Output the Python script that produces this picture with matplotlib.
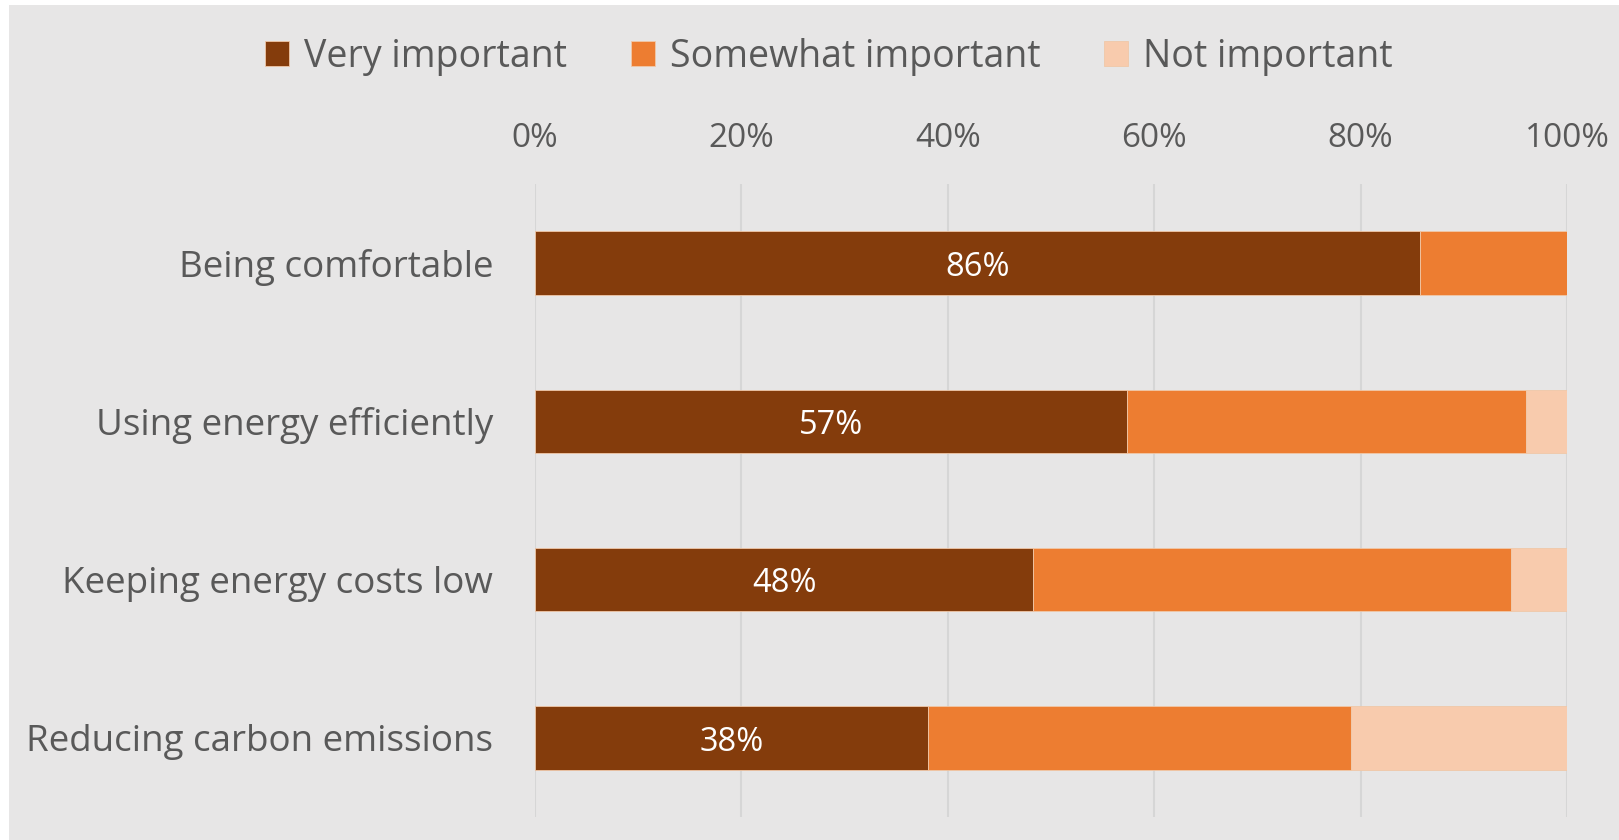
import matplotlib
matplotlib.use("Agg")
import matplotlib.pyplot as plt
from matplotlib.patches import Rectangle

plt.rcParams['font.family'] = ['Open Sans', 'DejaVu Sans']

categories = ["Being comfortable", "Using energy efficiently",
              "Keeping energy costs low", "Reducing carbon emissions"]
very_important = [85.8, 57.4, 48.3, 38.1]
somewhat_important = [14.2, 38.6, 46.3, 41.0]
not_important = [0.0, 4.0, 5.4, 20.9]
series_names = ["Very important", "Somewhat important", "Not important"]
colors = ["#843c0c", "#ed7d31", "#f8cbad"]
xticks = [0, 20, 40, 60, 80, 100]

text_color = "#595959"
bg = "#e7e6e6"

W, H = 1619, 840
fig = plt.figure(figsize=(W / 100, H / 100), dpi=100)
fig.patch.set_facecolor("white")
fig.patches.append(Rectangle((9 / W, 0), 1 - 9 / W, 1 - 5 / H,
                             transform=fig.transFigure, facecolor=bg,
                             edgecolor="none", zorder=-5))

ax = fig.add_axes([535 / W, 1 - 817 / H, (1567 - 535) / W, (817 - 184) / H])
ax.set_facecolor("none")

y = list(range(len(categories)))
left = [0] * len(categories)
bars = []
for vals, name, c in zip([very_important, somewhat_important, not_important], series_names, colors):
    b = ax.barh(y, vals, left=left, height=0.4, color=c, label=name,
                edgecolor="#f0c8a8", linewidth=0.6, zorder=3)
    bars.append(b)
    left = [l + v for l, v in zip(left, vals)]

for rect, v in zip(bars[0], very_important):
    ax.annotate(f"{v:.0f}%", (rect.get_x() + rect.get_width() / 2, rect.get_y() + rect.get_height() / 2),
                xytext=(0, -3), textcoords="offset points",
                color="white", ha="center", va="center", fontsize=23.5, zorder=4)

ax.set_xlim(0, 100)
ax.set_ylim(len(categories) - 0.5, -0.5)
ax.set_xticks(xticks)
ax.set_xticklabels([f"{t}%" for t in xticks])
ax.xaxis.tick_top()
ax.set_yticks(y)
ax.set_yticklabels(categories)
ax.tick_params(axis="x", length=0, pad=21, labelsize=24, labelcolor=text_color)
ax.tick_params(axis="y", length=0, pad=30, labelsize=26.5, labelcolor=text_color)
ax.grid(axis="x", color="#d6d6d6", linewidth=1.5, zorder=0)
for s in ax.spines.values():
    s.set_visible(False)

fig.legend(loc="center", bbox_to_anchor=(0.512, 1 - 57 / H), ncol=3, frameon=False,
           fontsize=27, labelcolor=text_color, handlelength=0.64, handleheight=0.64,
           handletextpad=0.4, columnspacing=1.7)

fig.savefig("out.png", dpi=100, facecolor=fig.get_facecolor())
